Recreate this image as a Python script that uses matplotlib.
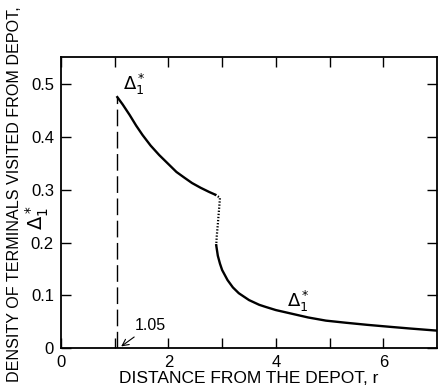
import matplotlib
matplotlib.use("Agg")
import matplotlib.pyplot as plt

plt.rcParams["font.family"] = ["Liberation Sans", "DejaVu Sans"]

# upper branch of Delta_1*
r_upper = [1.05, 1.15, 1.28, 1.4, 1.52, 1.67, 1.83, 2.0, 2.15, 2.3, 2.44, 2.6, 2.76, 2.87]
d_upper = [0.476, 0.462, 0.442, 0.422, 0.404, 0.384, 0.366, 0.349, 0.334, 0.323, 0.313, 0.304, 0.296, 0.291]

# dotted jump
r_jump = [2.87, 2.96, 2.94, 2.92, 2.90, 2.89]
d_jump = [0.291, 0.285, 0.260, 0.235, 0.212, 0.195]

# lower branch
r_lower = [2.89, 2.92, 2.96, 3.0, 3.1, 3.2, 3.31, 3.5, 3.69, 3.81, 4.0, 4.3, 4.6, 4.93, 5.3, 5.7, 6.15, 6.5, 7.0]
d_lower = [0.195, 0.175, 0.160, 0.148, 0.129, 0.115, 0.104, 0.091, 0.082, 0.078, 0.072, 0.065, 0.058, 0.052, 0.048, 0.044, 0.040, 0.037, 0.033]

fig = plt.figure(figsize=(4.38, 3.88), dpi=100)
ax = fig.add_axes([0.139, 0.103, 0.859, 0.750])

ax.plot(r_upper, d_upper, color="black", lw=1.7)
ax.plot(r_jump, d_jump, color="black", lw=1.6, linestyle=(0, (0.6, 0.8)))
ax.plot(r_lower, d_lower, color="black", lw=1.7)
ax.plot([1.05, 1.05], [0, 0.476], color="black", lw=1.0, dashes=(12, 4))

ax.text(1.15, 0.49, r"$\Delta_1^*$", fontsize=13)
ax.text(4.2, 0.078, r"$\Delta_1^*$", fontsize=13)
ax.annotate("1.05", xy=(1.08, 0.0), xytext=(1.38, 0.035), fontsize=11.5,
            arrowprops=dict(arrowstyle="->", color="black", lw=0.8))

ax.set_xlim(0, 7)
ax.set_ylim(0, 0.552)
ax.set_xticks([0, 1, 2, 3, 4, 5, 6])
ax.set_xticklabels(["0", "", "2", "", "4", "", "6"])
ax.set_yticks([0, 0.1, 0.2, 0.3, 0.4, 0.5])
ax.set_yticklabels(["0", "0.1", "0.2", "0.3", "0.4", "0.5"])
ax.tick_params(direction="in", length=7, width=1, top=True, right=True,
               labelsize=12, pad=5)
for s in ax.spines.values():
    s.set_linewidth(1.3)

ax.set_xlabel("DISTANCE FROM THE DEPOT, r", fontsize=12.5, labelpad=1)
fig.text(0.033, 0.5, "DENSITY OF TERMINALS VISITED FROM DEPOT,", rotation=90,
         fontsize=11.6, ha="center", va="center")
fig.text(0.085, 0.44, r"$\Delta_1^*$", rotation=90, fontsize=14,
         ha="center", va="center")

fig.savefig("out.png", dpi=100)
